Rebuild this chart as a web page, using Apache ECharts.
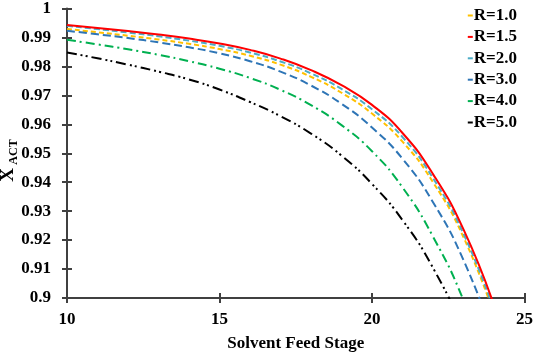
<!DOCTYPE html>
<html>
<head>
<meta charset="utf-8">
<script src="https://cdn.jsdelivr.net/npm/echarts@6/dist/echarts.min.js"></script>
<style>
html,body{margin:0;padding:0;background:#fff;}
#c{width:536px;height:357px;}
</style>
</head>
<body>
<div id="c"></div>
<script>
const stages = [10, 11, 12, 13, 14, 15, 16, 17, 18, 19, 20, 21, 22, 23, 24];
const seriesNames = ['R=1.0', 'R=1.5', 'R=2.0', 'R=3.0', 'R=4.0', 'R=5.0'];
const r10 = [0.9929, 0.9918, 0.9906, 0.9893, 0.9878, 0.9860, 0.9837, 0.9806, 0.9764, 0.9709, 0.9637, 0.9540, 0.9400, 0.9210, 0.8945];
const r15 = [0.9943, 0.9933, 0.9922, 0.9910, 0.9896, 0.9879, 0.9857, 0.9827, 0.9787, 0.9735, 0.9667, 0.9570, 0.9428, 0.9237, 0.8975];
const r20 = [0.9940, 0.9929, 0.9917, 0.9904, 0.9889, 0.9871, 0.9848, 0.9817, 0.9776, 0.9722, 0.9652, 0.9556, 0.9414, 0.9222, 0.8958];
const r30 = [0.9923, 0.9911, 0.9898, 0.9883, 0.9866, 0.9845, 0.9818, 0.9782, 0.9734, 0.9671, 0.9589, 0.9481, 0.9331, 0.9131, 0.8861];
const r40 = [0.9892, 0.9876, 0.9859, 0.9840, 0.9818, 0.9792, 0.9760, 0.9719, 0.9666, 0.9597, 0.9507, 0.9382, 0.9212, 0.8992, 0.8702];
const r50 = [0.9848, 0.9828, 0.9806, 0.9782, 0.9755, 0.9720, 0.9677, 0.9628, 0.9568, 0.9492, 0.9394, 0.9269, 0.9104, 0.8884, 0.8594];
const xTicks = [10, 15, 20, 25];
const yMin = 0.9, yMax = 1, yStep = 0.01;

const values = [r10, r15, r20, r30, r40, r50];
const colors = ['#FFC000', '#FF0000', '#4BACC6', '#2E75B6', '#00B050', '#000000'];
const dashes = [[5, 3], 'solid', [6, 3], [8, 4], [9, 4, 2, 4], [10, 4, 2, 3, 2, 4]];
const FONT = '"Liberation Serif", "Times New Roman", serif';

const chart = echarts.init(document.getElementById('c'), null, {renderer: 'canvas'});
const series = seriesNames.map((n, i) => ({
  name: n,
  type: 'line',
  smooth: 0.5,
  showSymbol: false,
  clip: true,
  z: i === 1 ? 5 : 3,
  data: stages.map((s, k) => [s, values[i][k]]),
  lineStyle: {color: colors[i], width: 2, type: dashes[i]},
  itemStyle: {color: colors[i]}
}));
const axisLineStyle = {color: '#404040', width: 2};
chart.setOption({
  animation: false,
  backgroundColor: '#ffffff',
  grid: {left: 67, right: 10, top: 7, bottom: 54, containLabel: false},
  legend: {
    orient: 'vertical', right: 14, top: 2,
    icon: 'rect', itemWidth: 5, itemHeight: 2, itemGap: 4.4,
    data: seriesNames,
    textStyle: {fontFamily: FONT, fontWeight: 'bold', fontSize: 17, color: '#000', padding: [0, 0, 0, -4], lineHeight: 17}
  },
  xAxis: [{
    type: 'value', min: xTicks[0], max: xTicks[xTicks.length - 1], interval: 5,
    name: 'Solvent Feed Stage', nameLocation: 'middle', nameGap: 37,
    nameTextStyle: {fontFamily: FONT, fontWeight: 'bold', fontSize: 17, color: '#000'},
    axisLine: {show: true, lineStyle: axisLineStyle},
    axisTick: {show: true, length: 5, lineStyle: axisLineStyle},
    axisLabel: {margin: 13, fontFamily: FONT, fontWeight: 'bold', fontSize: 17, color: '#000'},
    splitLine: {show: false}
  }, {
    type: 'value', min: xTicks[0], max: xTicks[xTicks.length - 1], interval: 5, position: 'bottom',
    axisLine: {show: false},
    axisTick: {show: true, inside: true, length: 5, lineStyle: axisLineStyle},
    axisLabel: {show: false}, splitLine: {show: false}
  }],
  yAxis: [{
    type: 'value', min: yMin, max: yMax, interval: yStep,
    axisLine: {show: true, lineStyle: axisLineStyle},
    axisTick: {show: true, length: 5, lineStyle: axisLineStyle},
    axisLabel: {margin: 16, fontFamily: FONT, fontWeight: 'bold', fontSize: 17, color: '#000'},
    splitLine: {show: false}
  }, {
    type: 'value', min: yMin, max: yMax, interval: yStep, position: 'left',
    axisLine: {show: false},
    axisTick: {show: true, inside: true, length: 5, lineStyle: axisLineStyle},
    axisLabel: {show: false}, splitLine: {show: false}
  }],
  graphic: [
    {type: 'text', x: 8, y: 175, rotation: Math.PI / 2,
     style: {text: 'X', font: 'bold 19px ' + FONT, fill: '#000', align: 'center', verticalAlign: 'middle'}},
    {type: 'text', x: 14, y: 152, rotation: Math.PI / 2,
     style: {text: 'ACT', font: 'bold 12px ' + FONT, fill: '#000', align: 'center', verticalAlign: 'middle'}}
  ],
  series: series
});
</script>
</body>
</html>
